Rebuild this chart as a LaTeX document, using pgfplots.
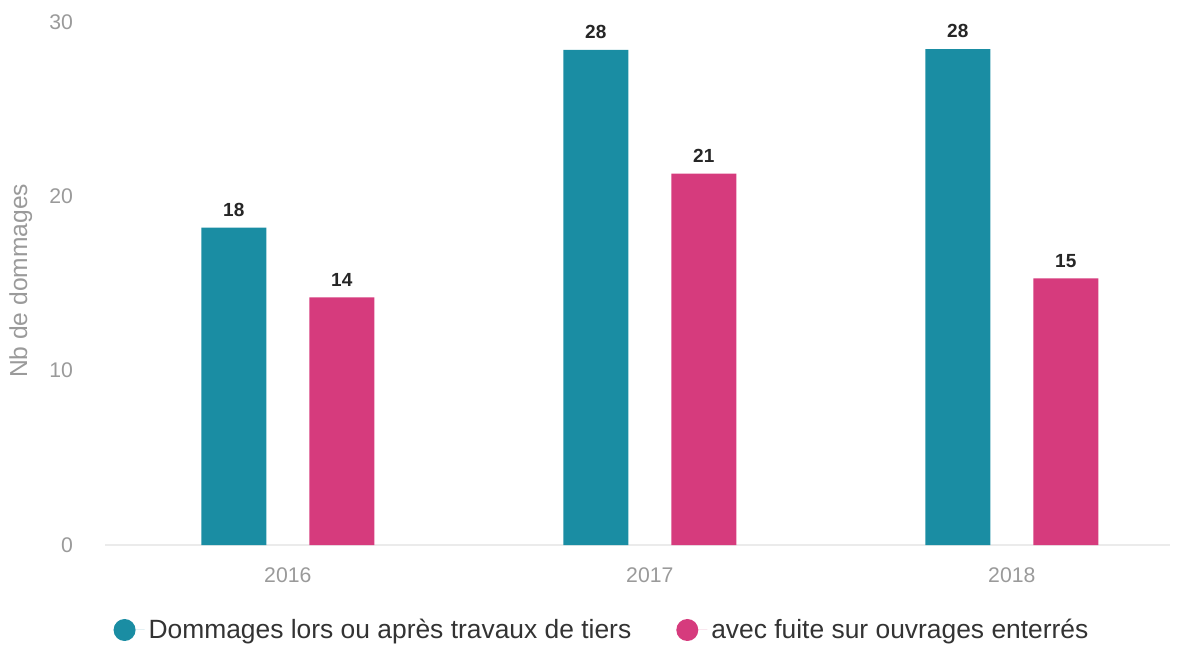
\documentclass[border=0pt]{standalone}
\usepackage{pgfplots}
\pgfplotsset{compat=1.18}
\usepackage{fontspec}
\setmainfont{Liberation Sans}
\definecolor{tealbar}{HTML}{1A8DA3}
\definecolor{pinkbar}{HTML}{D63B7D}
\definecolor{ticgray}{HTML}{9A9A9A}
\definecolor{legtext}{HTML}{333333}

\pgfplotsset{
  dotlegend/.style={legend image code/.code={%
    \fill (0pt,0pt) circle (5.5pt);
    \path (-5.5pt,0pt) -- (10pt,0pt);}}
}

\begin{document}
\begin{tikzpicture}
\useasboundingbox (-52.5pt,-50pt) rectangle (537.5pt,272.5pt);
\begin{axis}[
  scale only axis,
  width=532.5pt, height=261.5pt,
  xmin=-0.505, xmax=2.437,
  ymin=0, ymax=30,
  ybar, bar width=32.5pt,
  axis line style={draw=none},
  major tick length=0pt,
  xtick={0,1,2}, xticklabels={2016,2017,2018},
  ytick={10,20,30},
  extra y ticks={0},
  extra y tick style={grid=major, major grid style={draw=black!8, line width=0.6pt}},
  /pgf/number format/assume math mode=true,
  tick label style={font=\fontsize{10.6}{12}\selectfont, text=ticgray},
  yticklabel style={xshift=-12.5pt},
  xticklabel style={yshift=-8pt},
  ylabel={Nb de dommages},
  ylabel style={at={(axis description cs:-0.079,0.505)}, anchor=center,
    font=\fontsize{12.3}{14}\selectfont, text=ticgray},
  nodes near coords,
  nodes near coords style={font=\bfseries\fontsize{9.5}{11}\selectfont, text=black!85,
    /pgf/number format/fixed, /pgf/number format/precision=0, yshift=2pt},
  legend columns=2,
  legend style={at={(0.4676,-0.1625)}, anchor=center, draw=none,
    font=\fontsize{13.2}{15}\selectfont, text=legtext,
    /tikz/every even column/.append style={column sep=20.5pt}},
]
\addplot[fill=tealbar, draw=none, bar shift=-27pt, dotlegend]
  coordinates {(0,18.2) (1,28.4) (2,28.45)};
\addplot[fill=pinkbar, draw=none, bar shift=27pt, dotlegend]
  coordinates {(0,14.2) (1,21.3) (2,15.3)};
\legend{Dommages lors ou après travaux de tiers, avec fuite sur ouvrages enterrés}
\end{axis}
\end{tikzpicture}
\end{document}
